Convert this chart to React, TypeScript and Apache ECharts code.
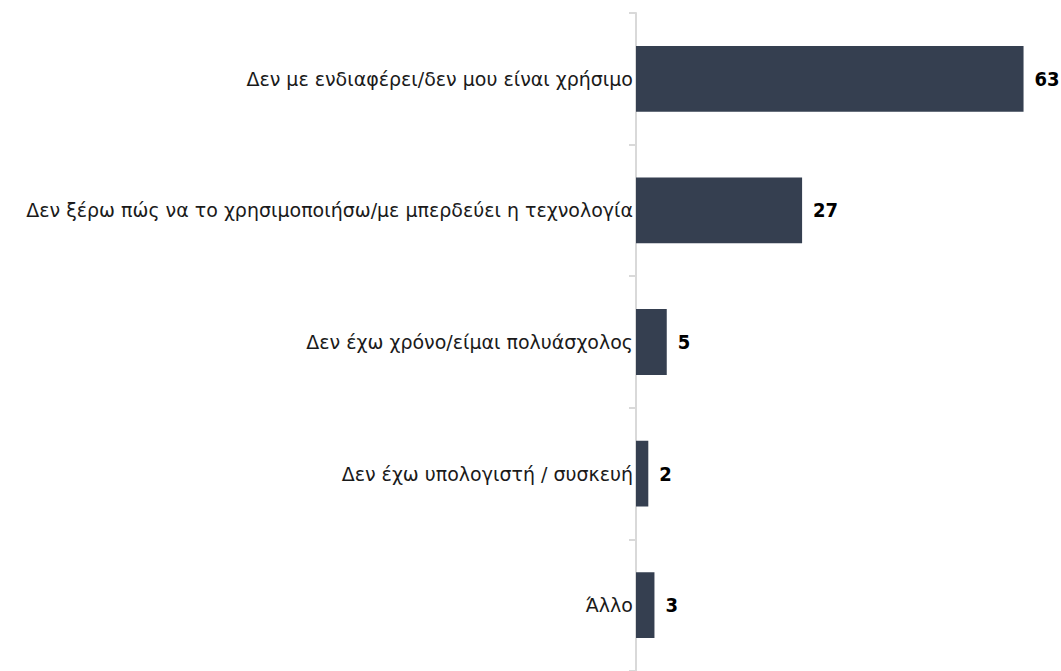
import React, { useEffect, useRef } from "react";
import * as echarts from "echarts";

const categories = [
  "Δεν με ενδιαφέρει/δεν μου είναι χρήσιμο",
  "Δεν ξέρω πώς να το χρησιμοποιήσω/με μπερδεύει η τεχνολογία",
  "Δεν έχω χρόνο/είμαι πολυάσχολος",
  "Δεν έχω υπολογιστή / συσκευή",
  "Άλλο",
];
const values = [63, 27, 5, 2, 3];

export default function App() {
  const ref = useRef<HTMLDivElement>(null);
  useEffect(() => {
    const chart = echarts.init(ref.current!, null, { renderer: "svg" });
    chart.setOption({
      animation: false,
      grid: { left: 636, top: 13, width: 406, height: 662, containLabel: false },
      xAxis: {
        type: "value",
        min: 0,
        max: 66,
        show: false,
      },
      yAxis: {
        type: "category",
        data: categories,
        inverse: true,
        axisLine: { show: true, lineStyle: { color: "#d9d9d9", width: 2 } },
        axisTick: { show: true, length: 7, lineStyle: { color: "#d9d9d9", width: 2 } },
        axisLabel: {
          margin: 3,
          color: "#1a1a1a",
          fontSize: 19,
          fontFamily: "DejaVu Sans",
        },
        splitLine: { show: false },
      },
      series: [
        {
          type: "bar",
          data: values,
          barWidth: "50%",
          itemStyle: { color: "#353f50" },
          label: {
            show: true,
            position: "right",
            distance: 11,
            color: "#000",
            fontWeight: "bold",
            fontSize: 20,
            fontFamily: "DejaVu Sans Condensed, Liberation Sans, sans-serif",
          },
        },
      ],
    });
    return () => chart.dispose();
  }, []);
  return <div ref={ref} style={{ width: 1061, height: 671, position: "absolute", left: 0, top: 0 }} />;
}
